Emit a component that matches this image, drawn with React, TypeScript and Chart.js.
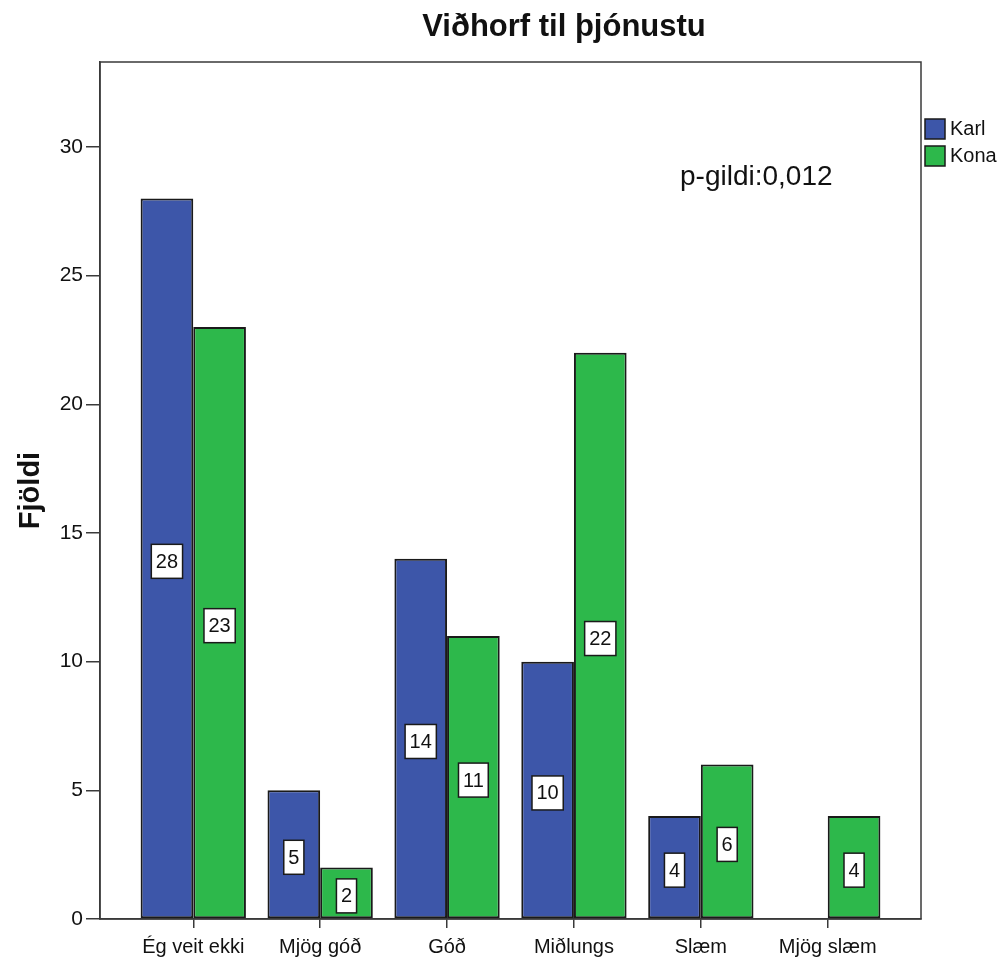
import { useEffect, useRef } from "react";
import { Chart, registerables } from "chart.js";

Chart.register(...registerables);

const categories = ["Ég veit ekki", "Mjög góð", "Góð", "Miðlungs", "Slæm", "Mjög slæm"];
const karlValues = [28, 5, 14, 10, 4, 0];
const konaValues = [23, 2, 11, 22, 6, 4];
const seriesNames = ["Karl", "Kona"];
const yTickValues = [0, 5, 10, 15, 20, 25, 30];
const chartTitle = "Viðhorf til þjónustu";
const yAxisTitle = "Fjöldi";
const pValueText = "p-gildi:0,012";

const BLUE = "#3d56a9";
const GREEN = "#2db84b";
const EDGE = "#1a1a1a";
const FONT = "'Liberation Sans', Arial, sans-serif";

const overlayPlugin = {
  id: "overlay",
  afterDatasetsDraw(chart: any) {
    const ctx = chart.ctx;
    ctx.save();
    ctx.font = `20px ${FONT}`;
    ctx.textAlign = "center";
    ctx.textBaseline = "middle";
    chart.data.datasets.forEach((ds: any, di: number) => {
      const meta = chart.getDatasetMeta(di);
      meta.data.forEach((el: any, i: number) => {
        const v = ds.data[i].y;
        if (!v) return;
        const cx = el.x;
        const cy = (el.y + el.base) / 2 + 3;
        const label = String(v);
        const w = ctx.measureText(label).width + 9;
        const h = 34;
        ctx.fillStyle = "#ffffff";
        ctx.fillRect(cx - w / 2, cy - h / 2, w, h);
        ctx.strokeStyle = EDGE;
        ctx.lineWidth = 1.5;
        ctx.strokeRect(cx - w / 2, cy - h / 2, w, h);
        ctx.fillStyle = "#111";
        ctx.fillText(label, cx, cy + 1);
      });
    });
    ctx.restore();
  },
  afterDraw(chart: any) {
    const ctx = chart.ctx;
    const { left, right, top, bottom } = chart.chartArea;
    ctx.save();
    ctx.strokeStyle = "#3a3a3a";
    ctx.lineWidth = 1.5;
    ctx.strokeRect(left, top, right - left, bottom - top);

    ctx.fillStyle = "#111";
    ctx.font = `bold 31px ${FONT}`;
    ctx.textAlign = "center";
    ctx.textBaseline = "middle";
    ctx.fillText(chartTitle, 564, 27);

    ctx.save();
    ctx.translate(31, (top + bottom) / 2);
    ctx.rotate(-Math.PI / 2);
    ctx.font = `bold 29px ${FONT}`;
    ctx.fillText(yAxisTitle, 0, 0);
    ctx.restore();

    ctx.font = `28px ${FONT}`;
    ctx.textAlign = "left";
    ctx.textBaseline = "alphabetic";
    ctx.fillText(pValueText, 680, 185);

    const colors = [BLUE, GREEN];
    ctx.font = `20px ${FONT}`;
    ctx.textBaseline = "middle";
    seriesNames.forEach((name, i) => {
      const y = 119 + i * 27;
      ctx.fillStyle = colors[i];
      ctx.fillRect(925, y, 20, 20);
      ctx.strokeStyle = EDGE;
      ctx.lineWidth = 1.5;
      ctx.strokeRect(925, y, 20, 20);
      ctx.fillStyle = "#111";
      ctx.fillText(name, 950, y + 10);
    });
    ctx.restore();
  },
};

export default function App() {
  const canvasRef = useRef<HTMLCanvasElement | null>(null);

  useEffect(() => {
    document.body.style.margin = "0";
    const canvas = canvasRef.current;
    if (!canvas) return;
    const borderW = (c: any) => (c.raw && c.raw.y === 0 ? 0 : 2);
    const makeDs = (label: string, values: number[], color: string) => ({
      label,
      data: values.map((v, i) => ({ x: i, y: v })),
      backgroundColor: color,
      borderColor: EDGE,
      borderWidth: borderW as any,
      borderSkipped: false,
      categoryPercentage: 0.83,
      barPercentage: 1,
    });
    const chart = new Chart(canvas, {
      type: "bar",
      data: {
        datasets: [
          makeDs(seriesNames[0], karlValues, BLUE),
          makeDs(seriesNames[1], konaValues, GREEN),
        ],
      },
      options: {
        animation: false,
        responsive: true,
        maintainAspectRatio: false,
        layout: { padding: { top: 62, right: 85, left: 0, bottom: 0 } },
        plugins: {
          legend: { display: false },
          title: { display: false },
          tooltip: { enabled: false },
        },
        scales: {
          x: {
            type: "linear",
            offset: false,
            min: -0.735,
            max: 5.735,
            afterBuildTicks: (s: any) => {
              s.ticks = categories.map((_, i) => ({ value: i }));
            },
            afterFit: (s: any) => {
              s.height = 42;
            },
            ticks: {
              autoSkip: false,
              maxRotation: 0,
              padding: 7,
              color: "#111",
              font: { family: FONT, size: 20 },
              callback: (v: any) => categories[Number(v)] ?? "",
            },
            grid: {
              offset: false,
              drawOnChartArea: false,
              drawTicks: true,
              tickLength: 9,
              color: "#3a3a3a",
              lineWidth: 1.5,
            },
            border: { display: true, color: "#3a3a3a", width: 1.5 },
          },
          y: {
            min: 0,
            max: 33.3,
            afterBuildTicks: (s: any) => {
              s.ticks = yTickValues.map((v) => ({ value: v }));
            },
            afterFit: (s: any) => {
              s.width = 100;
            },
            ticks: {
              padding: 3,
              color: "#111",
              font: { family: FONT, size: 21 },
            },
            grid: {
              drawOnChartArea: false,
              drawTicks: true,
              tickLength: 14,
              color: "#3a3a3a",
              lineWidth: 1.5,
            },
            border: { display: true, color: "#3a3a3a", width: 1.5 },
          },
        },
      } as any,
      plugins: [overlayPlugin],
    });
    return () => chart.destroy();
  }, []);

  return (
    <div style={{ width: 1006, height: 961, position: "relative", background: "#fff" }}>
      <canvas ref={canvasRef} />
    </div>
  );
}
